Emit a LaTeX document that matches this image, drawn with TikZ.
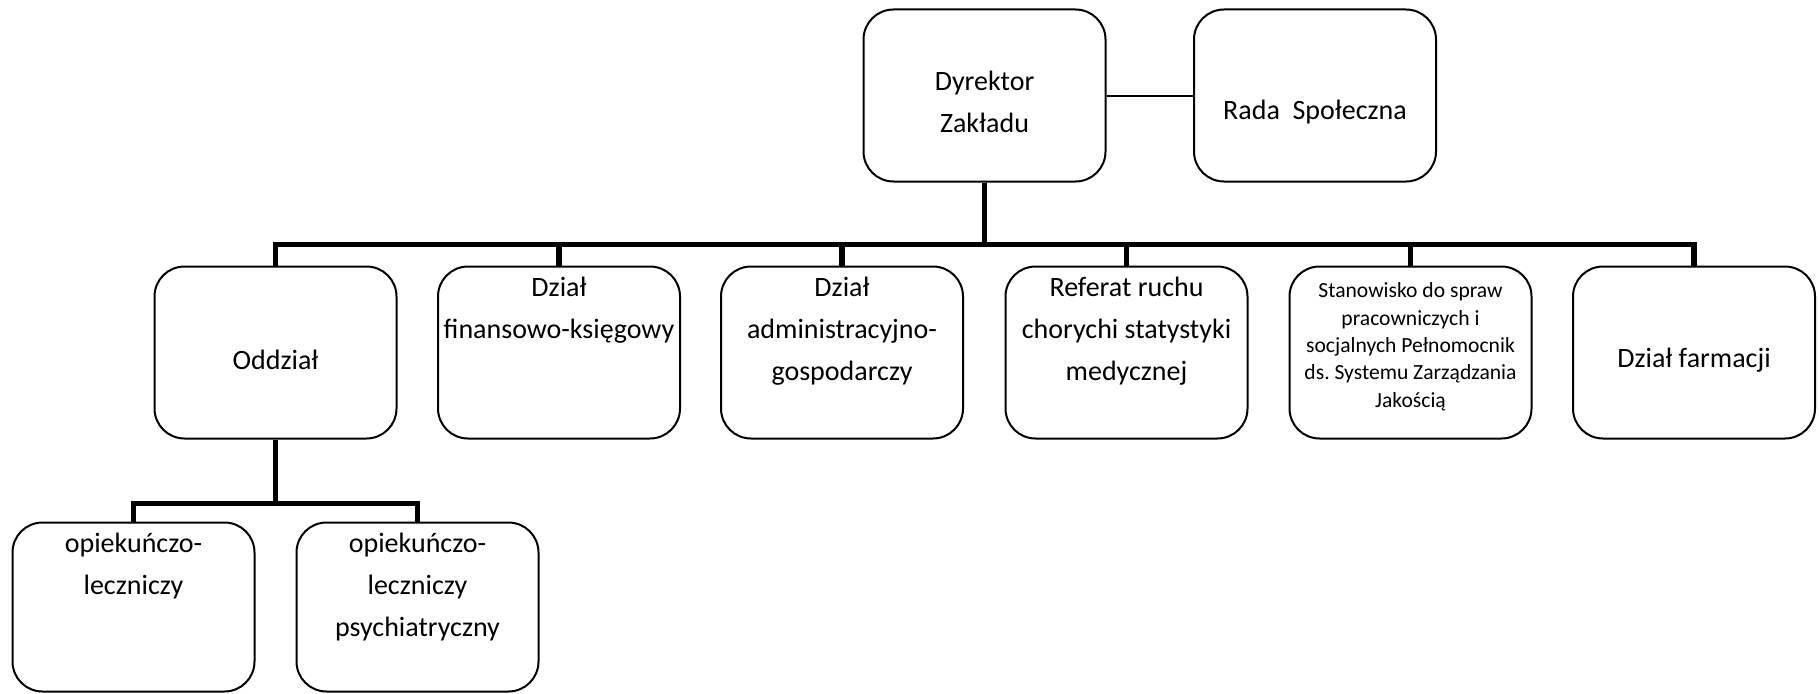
\documentclass[tikz,border=0pt]{standalone}
\usepackage{fontspec}
\setmainfont{Carlito}
\frenchspacing
\begin{document}
\begin{tikzpicture}[x=1pt,y=-1pt,
  box/.style={draw=black,line width=2pt,rounded corners=30pt,minimum width=242pt,minimum height=172pt,inner sep=0pt},
  txt/.style={align=center,inner sep=0pt,font=\fontsize{28}{42}\selectfont},
  smalltxt/.style={align=center,inner sep=0pt,font=\fontsize{21.6}{27.4}\selectfont},
  conn/.style={line width=5.5pt},
  thinconn/.style={line width=2pt}]
\useasboundingbox (0,0) rectangle (1819,693);
% boxes
\node[box] (dyr) at (984.5,95.5) {};
\node[box] (rada) at (1315,95.5) {};
\node[box] (odd) at (275.5,352.5) {};
\node[box] (fin) at (559,352.5) {};
\node[box] (adm) at (842,352.5) {};
\node[box] (ref) at (1126.5,352.5) {};
\node[box] (sta) at (1410.5,352.5) {};
\node[box] (far) at (1694,352.5) {};
\node[box,minimum height=169pt] (op1) at (133.5,607) {};
\node[box,minimum height=169pt] (op2) at (417.5,607) {};
% texts
\node[txt] (dyrt) at (984.5,102) {Dyrektor\\Zakładu};
\node[txt] (radat) at (1315,112) {Rada\ \ Społeczna};
\node[txt] (oddt) at (275.5,360) {Oddział};
\node[txt,anchor=north] (fint) at (559,277) {Dział\\finansowo-księgowy};
\node[txt,anchor=north] (admt) at (842,277) {Dział\\administracyjno-\\gospodarczy};
\node[txt,anchor=north] (reft) at (1126.5,277) {Referat ruchu\\chorychi statystyki\\medycznej};
\node[smalltxt,anchor=north] (stat) at (1410.5,282.5) {Stanowisko do spraw\\pracowniczych i\\socjalnych Pełnomocnik\\ds.\ Systemu Zarządzania\\Jakością};
\node[txt] (fart) at (1694,360) {Dział farmacji};
\node[txt,anchor=north] (op1t) at (133.5,533) {opiekuńczo-\\leczniczy};
\node[txt,anchor=north] (op2t) at (417.5,533) {opiekuńczo-\\leczniczy\\psychiatryczny};
% connectors
\draw[thinconn] (dyr.east) -- (rada.west);
\foreach \c in {odd,fin,adm,ref,sta,far}{
  \draw[conn] (dyr.south) -- ++(0,62) -| (\c.north);
}
\foreach \c in {op1,op2}{
  \draw[conn] (odd.south) -- ++(0,64) -| (\c.north);
}
\end{tikzpicture}
\end{document}
